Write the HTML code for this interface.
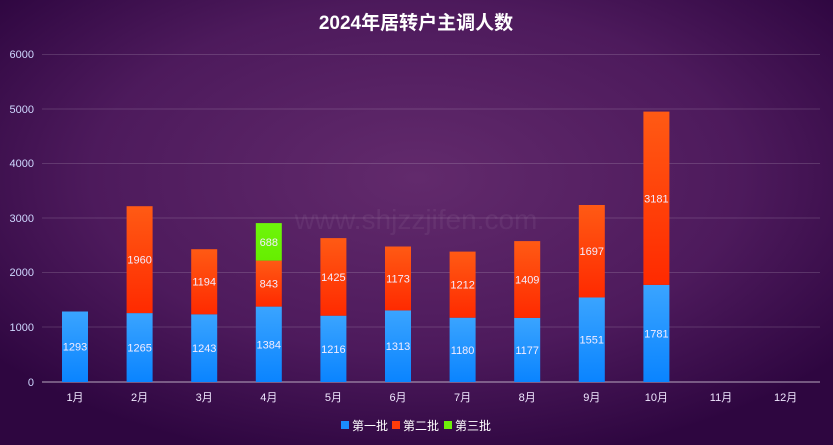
<!DOCTYPE html>
<html><head><meta charset="utf-8"><style>
body{margin:0;width:833px;height:445px;overflow:hidden;background:#3a0d4a}
svg{display:block}
text{font-family:"Liberation Sans","Noto Sans CJK SC",sans-serif}
</style></head><body>
<svg width="833" height="445" xmlns="http://www.w3.org/2000/svg">
<defs>
<radialGradient id="bg" cx="50%" cy="40%" r="65%">
<stop offset="0" stop-color="#622a6c"/><stop offset="0.6" stop-color="#4d1a5c"/><stop offset="1" stop-color="#2e0640"/>
</radialGradient>
<linearGradient id="b1" x1="0" y1="0" x2="0" y2="1"><stop offset="0" stop-color="#3aa4ff"/><stop offset="1" stop-color="#0a84ff"/></linearGradient>
<linearGradient id="b2" x1="0" y1="0" x2="0" y2="1"><stop offset="0" stop-color="#ff5a14"/><stop offset="1" stop-color="#ff2a00"/></linearGradient>
<linearGradient id="b3" x1="0" y1="0" x2="0" y2="1"><stop offset="0" stop-color="#6ef50a"/><stop offset="1" stop-color="#66ee00"/></linearGradient>
</defs>
<rect width="833" height="445" fill="url(#bg)"/>
<text x="416" y="29" text-anchor="middle" font-size="19" font-weight="bold" fill="#fff">2024年居转户主调人数</text>
<text x="416" y="229" text-anchor="middle" font-size="28" fill="#ffffff" fill-opacity="0.06">www.shjzzjifen.com</text>
<g stroke="#ffffff" stroke-opacity="0.15" stroke-width="1">
<line x1="42" x2="820" y1="54.5" y2="54.5"/><line x1="42" x2="820" y1="109" y2="109"/><line x1="42" x2="820" y1="163.5" y2="163.5"/><line x1="42" x2="820" y1="218" y2="218"/><line x1="42" x2="820" y1="272.5" y2="272.5"/><line x1="42" x2="820" y1="327" y2="327"/>
</g>
<line x1="42" x2="820" y1="382" y2="382" stroke="#b9a9c0" stroke-width="1"/>
<g font-size="11" fill="#cfd8ff" text-anchor="end">
<text x="34" y="58">6000</text><text x="34" y="113">5000</text><text x="34" y="167">4000</text><text x="34" y="222">3000</text><text x="34" y="276">2000</text><text x="34" y="331">1000</text><text x="34" y="386">0</text>
</g>
<g>
<rect x="62" y="311.5" width="26" height="70.5" fill="url(#b1)"/>
<rect x="126.6" y="313.1" width="26" height="68.9" fill="url(#b1)"/><rect x="126.6" y="206.2" width="26" height="106.9" fill="url(#b2)"/>
<rect x="191.2" y="314.3" width="26" height="67.7" fill="url(#b1)"/><rect x="191.2" y="249.2" width="26" height="65.1" fill="url(#b2)"/>
<rect x="255.8" y="306.6" width="26" height="75.4" fill="url(#b1)"/><rect x="255.8" y="260.6" width="26" height="46" fill="url(#b2)"/><rect x="255.8" y="223.1" width="26" height="37.5" fill="url(#b3)"/>
<rect x="320.4" y="315.7" width="26" height="66.3" fill="url(#b1)"/><rect x="320.4" y="238.1" width="26" height="77.6" fill="url(#b2)"/>
<rect x="385" y="310.4" width="26" height="71.6" fill="url(#b1)"/><rect x="385" y="246.5" width="26" height="63.9" fill="url(#b2)"/>
<rect x="449.6" y="317.7" width="26" height="64.3" fill="url(#b1)"/><rect x="449.6" y="251.6" width="26" height="66.1" fill="url(#b2)"/>
<rect x="514.2" y="317.9" width="26" height="64.1" fill="url(#b1)"/><rect x="514.2" y="241.1" width="26" height="76.8" fill="url(#b2)"/>
<rect x="578.8" y="297.5" width="26" height="84.5" fill="url(#b1)"/><rect x="578.8" y="205" width="26" height="92.5" fill="url(#b2)"/>
<rect x="643.4" y="284.9" width="26" height="97.1" fill="url(#b1)"/><rect x="643.4" y="111.6" width="26" height="173.3" fill="url(#b2)"/>
</g>
<g font-size="11" fill="#f4ecff" text-anchor="middle">
<text x="75" y="350.7">1293</text>
<text x="139.6" y="351.5">1265</text><text x="139.6" y="263.7">1960</text>
<text x="204.2" y="352.1">1243</text><text x="204.2" y="285.7">1194</text>
<text x="268.8" y="348.3">1384</text><text x="268.8" y="287.6">843</text><text x="268.8" y="245.9">688</text>
<text x="333.4" y="352.9">1216</text><text x="333.4" y="280.9">1425</text>
<text x="398" y="350.2">1313</text><text x="398" y="282.5">1173</text>
<text x="462.6" y="353.9">1180</text><text x="462.6" y="288.7">1212</text>
<text x="527.2" y="353.9">1177</text><text x="527.2" y="283.5">1409</text>
<text x="591.8" y="343.7">1551</text><text x="591.8" y="255.2">1697</text>
<text x="656.4" y="337.5">1781</text><text x="656.4" y="202.3">3181</text>
</g>
<g font-size="11" fill="#f0e8ff" text-anchor="middle">
<text x="75" y="401">1月</text><text x="139.6" y="401">2月</text><text x="204.2" y="401">3月</text><text x="268.8" y="401">4月</text><text x="333.4" y="401">5月</text><text x="398" y="401">6月</text><text x="462.6" y="401">7月</text><text x="527.2" y="401">8月</text><text x="591.8" y="401">9月</text><text x="656.4" y="401">10月</text><text x="721" y="401">11月</text><text x="785.6" y="401">12月</text>
</g>
<g font-size="12" fill="#fff">
<rect x="341" y="421" width="8" height="8" fill="#1a8cff"/><text x="352" y="430">第一批</text>
<rect x="392" y="421" width="8" height="8" fill="#ff3c0a"/><text x="403" y="430">第二批</text>
<rect x="444" y="421" width="8" height="8" fill="#6ef00a"/><text x="455" y="430">第三批</text>
</g>
</svg>
</body></html>
